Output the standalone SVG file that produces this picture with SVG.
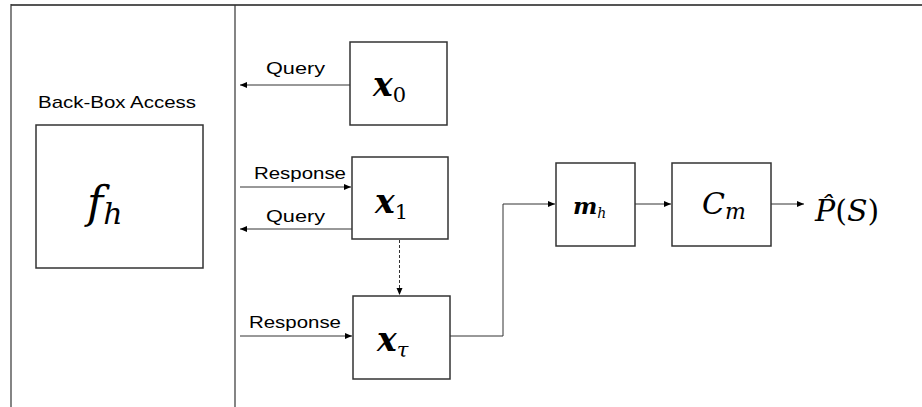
<svg xmlns="http://www.w3.org/2000/svg" width="922" height="407" viewBox="0 0 922 407">
<defs>
<marker id="ah" markerWidth="8" markerHeight="8" refX="7" refY="4" orient="auto" markerUnits="userSpaceOnUse">
<path d="M0,1 L7,4 L0,7 Z" fill="#000"/>
</marker>
<style>
.box{fill:#fff;stroke:#333;stroke-width:1.5}
.ln{fill:none;stroke:#333;stroke-width:1}
.lbl{font-family:"Liberation Sans",Arial,sans-serif;font-size:17px;fill:#000}
.m{font-family:"DejaVu Serif","Liberation Serif",serif;font-style:italic;fill:#000}
.mb{font-family:"DejaVu Serif","Liberation Serif",serif;font-style:italic;font-weight:bold;fill:#000}
.mr{font-family:"DejaVu Serif","Liberation Serif",serif;fill:#000}
</style>
</defs>
<rect width="922" height="407" fill="#fff"/>
<g id="frame">
<line x1="11" y1="5" x2="922" y2="5" stroke="#555" stroke-width="2"/>
<line x1="11" y1="4" x2="11" y2="407" stroke="#333" stroke-width="1.2"/>
<line x1="235" y1="5" x2="235" y2="407" stroke="#333" stroke-width="1.2"/>
</g>
<g id="connectors">
<line class="ln" x1="350" y1="85" x2="240" y2="85" marker-end="url(#ah)"/>
<line class="ln" x1="240" y1="187" x2="351" y2="187" marker-end="url(#ah)"/>
<line class="ln" x1="352" y1="229" x2="240" y2="229" marker-end="url(#ah)"/>
<line class="ln" x1="399.5" y1="240" x2="399.5" y2="295" stroke-dasharray="3,2" marker-end="url(#ah)"/>
<line class="ln" x1="240" y1="336" x2="352" y2="336" marker-end="url(#ah)"/>
<polyline class="ln" points="450,336 503,336 503,204 555,204" marker-end="url(#ah)"/>
<line class="ln" x1="635" y1="204" x2="671" y2="204" marker-end="url(#ah)"/>
<line class="ln" x1="771" y1="204" x2="804" y2="204" marker-end="url(#ah)"/>
<text class="lbl" x="266" y="74" textLength="59" lengthAdjust="spacingAndGlyphs">Query</text>
<text class="lbl" x="254" y="179" textLength="92" lengthAdjust="spacingAndGlyphs">Response</text>
<text class="lbl" x="266" y="222" textLength="59" lengthAdjust="spacingAndGlyphs">Query</text>
<text class="lbl" x="249" y="328" textLength="92" lengthAdjust="spacingAndGlyphs">Response</text>
</g>
<g id="fh">
<text class="lbl" x="38" y="108" textLength="158" lengthAdjust="spacingAndGlyphs">Back-Box Access</text>
<rect class="box" x="36" y="125" width="167" height="143"/>
<text class="m" x="87" y="218" font-size="44">f<tspan font-size="30" dy="6">h</tspan></text>
</g>
<g id="x0">
<rect class="box" x="350" y="42" width="97" height="83"/>
<text class="mb" x="373" y="96" font-size="33">x<tspan class="mr" font-weight="normal" font-style="normal" font-size="21" dy="6">0</tspan></text>
</g>
<g id="x1">
<rect class="box" x="352" y="157" width="96" height="82"/>
<text class="mb" x="375" y="213" font-size="33">x<tspan class="mr" font-weight="normal" font-style="normal" font-size="21" dy="6">1</tspan></text>
</g>
<g id="xtau">
<rect class="box" x="353" y="296" width="97" height="83"/>
<text class="mb" x="377" y="351" font-size="33">x<tspan font-weight="normal" font-size="21" dy="6">τ</tspan></text>
</g>
<g id="mh">
<rect class="box" x="556" y="163" width="79" height="83"/>
<text class="mb" x="573" y="214" font-size="23">m<tspan font-weight="normal" font-size="14" dy="4">h</tspan></text>
</g>
<g id="cm">
<rect class="box" x="672" y="163" width="99" height="83"/>
<text class="m" x="702" y="214" font-size="30">C<tspan font-size="22" dy="5">m</tspan></text>
</g>
<g id="ps">
<text class="m" x="815" y="221" font-size="30">P̂<tspan font-style="normal">(</tspan>S<tspan font-style="normal">)</tspan></text>
</g>
</svg>
